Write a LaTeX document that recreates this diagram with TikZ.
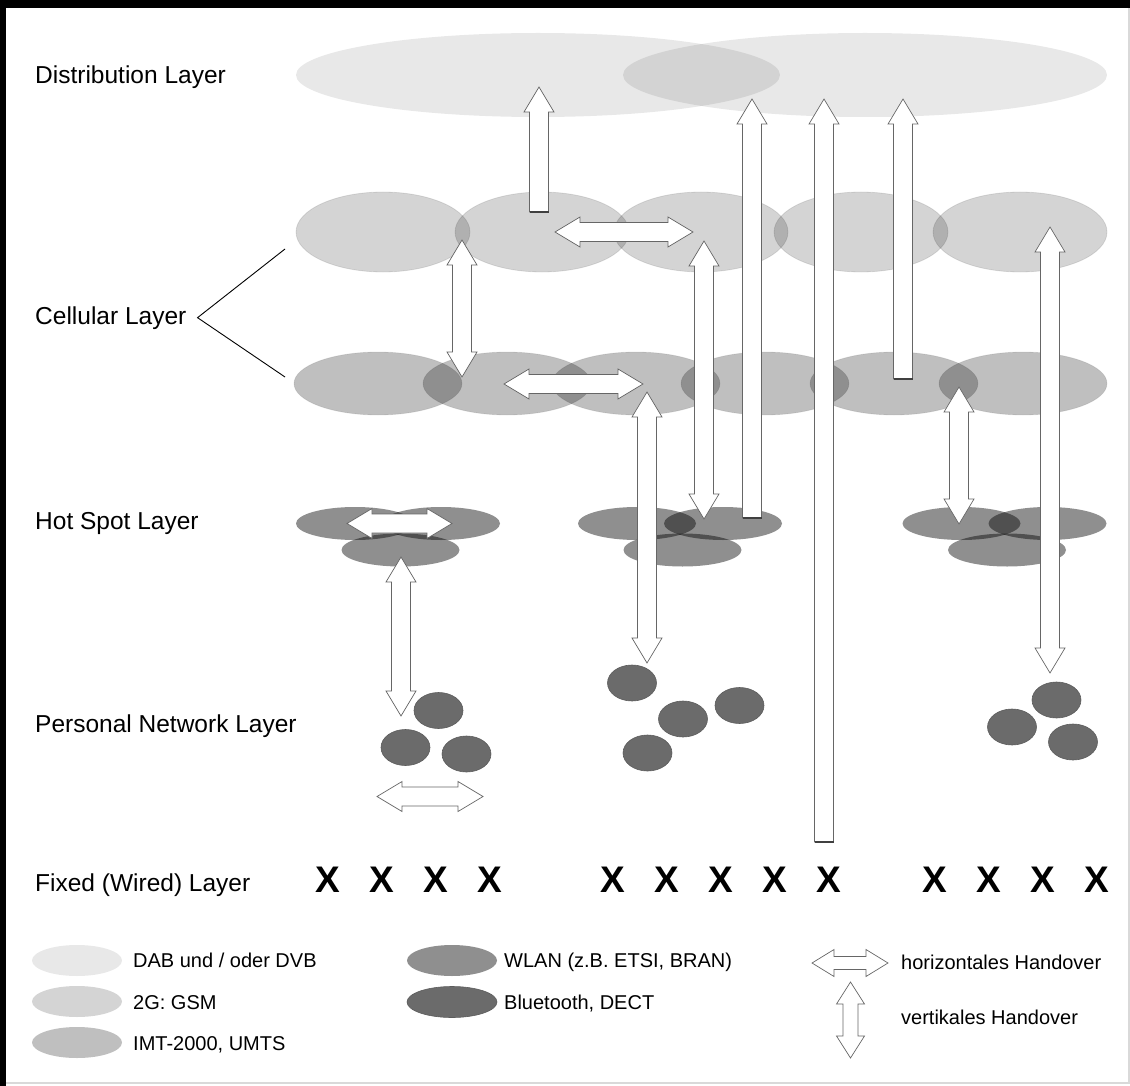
\documentclass[tikz,border=0pt]{standalone}
\usepackage{fontspec}
\setmainfont{Liberation Sans}
\usepackage{tikz}

\newcommand{\shaftw}{9.5}
\newcommand{\headw}{15}
\newcommand{\headl}{25}
% x, tip, flat end
\newcommand{\uplink}[3]{%
  \draw[handover] (#1,#2) -- ({#1+\headw},{#2+\headl}) -- ({#1+\shaftw},{#2+\headl}) -- ({#1+\shaftw},#3)
    -- ({#1-\shaftw},#3) -- ({#1-\shaftw},{#2+\headl}) -- ({#1-\headw},{#2+\headl}) -- cycle;
  \draw[black!75, line width=1.2pt] ({#1-\shaftw},#3) -- ({#1+\shaftw},#3);}
% x, top tip, bottom tip
\newcommand{\vhandover}[3]{%
  \draw[handover] (#1,#2) -- ({#1+\headw},{#2+\headl}) -- ({#1+\shaftw},{#2+\headl}) -- ({#1+\shaftw},{#3-\headl})
    -- ({#1+\headw},{#3-\headl}) -- (#1,#3) -- ({#1-\headw},{#3-\headl}) -- ({#1-\shaftw},{#3-\headl})
    -- ({#1-\shaftw},{#2+\headl}) -- ({#1-\headw},{#2+\headl}) -- cycle;}
% left tip, right tip, y
\newcommand{\hhandover}[3]{%
  \draw[handover] (#1,#3) -- ({#1+\headl},{#3-\headw}) -- ({#1+\headl},{#3-\shaftw}) -- ({#2-\headl},{#3-\shaftw})
    -- ({#2-\headl},{#3-\headw}) -- (#2,#3) -- ({#2-\headl},{#3+\headw}) -- ({#2-\headl},{#3+\shaftw})
    -- ({#1+\headl},{#3+\shaftw}) -- ({#1+\headl},{#3+\headw}) -- cycle;}

\tikzset{
  dab/.style={fill=black, fill opacity=0.09},
  gsm/.style={fill=black, fill opacity=0.17, draw=black, draw opacity=0.1, line width=0.8pt},
  umts/.style={fill=black, fill opacity=0.25, draw=black, draw opacity=0.08, line width=0.8pt},
  wlan/.style={fill=black, fill opacity=0.44},
  bt/.style={fill=black!58, draw=black!64, line width=0.6pt},
  handover/.style={draw=black!60, fill=white, line width=0.7pt, line join=miter},
  layer/.style={anchor=base west, inner sep=0pt, font=\fontsize{24.5}{29}\selectfont},
  legend/.style={anchor=base west, inner sep=0pt, font=\fontsize{20}{24}\selectfont},
  wire/.style={anchor=base, inner sep=0pt, font=\fontsize{37}{40}\selectfont\bfseries}
}

\begin{document}
\begin{tikzpicture}[x=1pt, y=-1pt]
\useasboundingbox (0,0) rectangle (1130,1086);
% frame
\fill[black] (0,0) rectangle (1130,8);
\fill[black] (0,0) rectangle (6,1086);
\draw[black!15, line width=1.5pt] (6,1083) -- (1129,1083) -- (1129,8);

% layer labels
\node[layer] (dist) at (35,84) {Distribution Layer};
\node[layer] (cell) at (35,324) {Cellular Layer};
\node[layer] (hot) at (35,529) {Hot Spot Layer};
\node[layer] (pers) at (35,732) {Personal Network Layer};
\node[layer] (fixed) at (35,891) {Fixed (Wired) Layer};
\coordinate (fork) at ([xshift=11pt]cell.east);
\coordinate (gsmend) at (285,249);
\coordinate (umtsend) at (285,377);
\draw[line width=0.9pt] (gsmend) -- (fork) -- (umtsend);

% distribution layer
\fill[dab] (538,75) ellipse [x radius=242, y radius=42];
\fill[dab] (865,75) ellipse [x radius=242, y radius=42];

% cellular layer
\foreach \cx in {383,542,701,861,1020}
  \filldraw[gsm] (\cx,232) ellipse [x radius=87, y radius=40];
\foreach \cx in {378,507,636,765,894,1023}
  \filldraw[umts] (\cx,383.5) ellipse [x radius=84, y radius=31.5];

% hot spot layer
\foreach \cx in {398,680,1004.5}{
  \fill[wlan] ({\cx-43},523.5) ellipse [x radius=59, y radius=16.5];
  \fill[wlan] ({\cx+43},523.5) ellipse [x radius=59, y radius=16.5];
  \fill[wlan] ({\cx+2.5},550) ellipse [x radius=59, y radius=16.5];
}

% personal network layer
\foreach \px/\py in {438.5/710.5, 405.5/747.5, 466.5/754, 632/683, 683/719, 739.5/705.5, 647.5/753,
    1056.5/700, 1012/727, 1073/742}
  \filldraw[bt] (\px,\py) ellipse [x radius=24.5, y radius=18];

% fixed layer
\foreach \wx [count=\i] in {328,382,436,490,613,667,721,775,829,935,989,1043,1097}
  \node[wire] (x\i) at (\wx,892) {X};

% handovers
\uplink{539}{87}{212}
\uplink{752}{99}{518}
\uplink{824}{99}{842}
\uplink{903}{99}{379}
\hhandover{555}{693}{232}
\hhandover{504}{643}{384}
\hhandover{347}{452}{523.5}
\hhandover{377}{483}{796.5}
\vhandover{462}{240}{377}
\vhandover{704}{241}{519}
\vhandover{1050}{227}{673}
\vhandover{959}{387}{524}
\vhandover{401}{557}{716}
\vhandover{647}{392}{663}

% legend
\fill[dab] (77,960.5) ellipse [x radius=45, y radius=15.5];
\fill[black, fill opacity=0.17] (77,1001.5) ellipse [x radius=45, y radius=15.5];
\fill[black, fill opacity=0.25] (77,1042.5) ellipse [x radius=45, y radius=15.5];
\fill[wlan] (452,960.5) ellipse [x radius=45, y radius=15.5];
\fill[bt] (452,1002) ellipse [x radius=45, y radius=15.5];
\node[legend] (dab) at (133,967) {DAB und / oder DVB};
\node[legend] (gsm) at (133,1009) {2G: GSM};
\node[legend] (umts) at (133,1050) {IMT-2000, UMTS};
\node[legend] (wlan) at (504,967) {WLAN (z.B. ETSI, BRAN)};
\node[legend] (bt) at (504,1009) {Bluetooth, DECT};
\node[legend] (horiz) at (901,969) {horizontales Handover};
\node[legend] (vert) at (901,1024) {vertikales Handover};
\begin{scope}
  \renewcommand{\shaftw}{6.5}\renewcommand{\headw}{13.5}\renewcommand{\headl}{22}
  \hhandover{812}{888}{963}
  \renewcommand{\shaftw}{7.5}\renewcommand{\headw}{14}
  \vhandover{850.5}{982}{1058}
\end{scope}
\end{tikzpicture}
\end{document}
